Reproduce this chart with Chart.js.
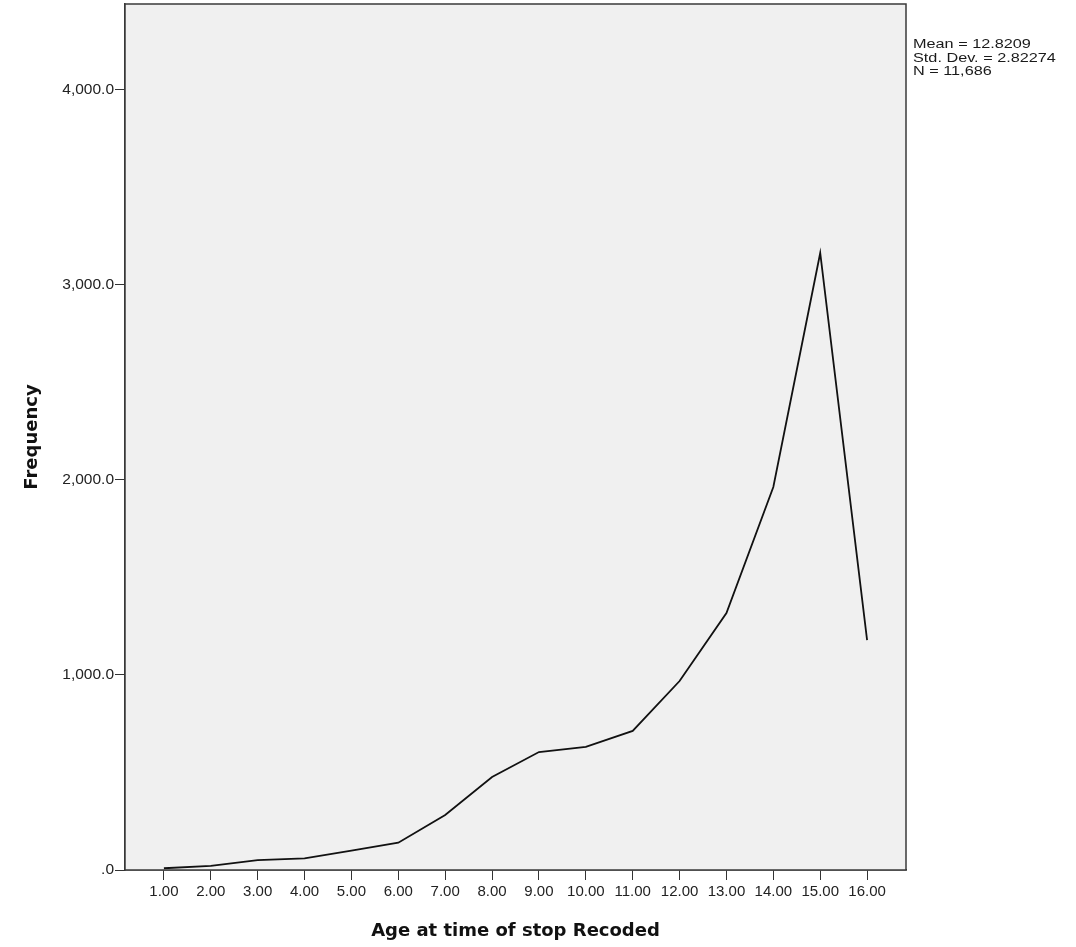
<!DOCTYPE html>
<html lang="en">
<head>
    <meta charset="UTF-8">
    <title>Age at time of stop Recoded</title>
    <script src="https://cdn.jsdelivr.net/npm/chart.js"></script>
    <style>
        body {
            margin: 0;
            padding: 0;
            background: #ffffff;
        }
        canvas {
            display: block;
        }
    </style>
</head>
<body>
    <canvas id="freqChart" width="1076" height="947"></canvas>

    <script>
        // Chart data
        const ages = [1, 2, 3, 4, 5, 6, 7, 8, 9, 10, 11, 12, 13, 14, 15, 16];
        const frequency = [9, 21, 51, 60, 99, 140, 282, 477, 605, 631, 713, 969, 1318, 1964, 3164, 1179];
        const yTicks = [0, 1000, 2000, 3000, 4000];
        const statsLines = ['Mean = 12.8209', 'Std. Dev. = 2.82274', 'N = 11,686'];

        // grey plot area with a dark frame
        const plotFrame = {
            id: 'plotFrame',
            beforeDatasetsDraw(chart) {
                const { ctx, chartArea: a } = chart;
                ctx.save();
                ctx.fillStyle = '#f0f0f0';
                ctx.fillRect(a.left, a.top, a.right - a.left, a.bottom - a.top);
                ctx.restore();
            },
            afterDraw(chart) {
                const { ctx, chartArea: a } = chart;
                ctx.save();
                ctx.strokeStyle = '#3a3a3a';
                ctx.lineWidth = 1.5;
                ctx.strokeRect(a.left, a.top, a.right - a.left, a.bottom - a.top);

                // statistics box on the right
                ctx.fillStyle = '#1a1a1a';
                ctx.font = '12.5px "Liberation Sans", Arial, sans-serif';
                ctx.textBaseline = 'alphabetic';
                ctx.textAlign = 'left';
                statsLines.forEach((t, i) => {
                    ctx.save();
                    ctx.translate(a.right + 7, 48 + i * 13.5);
                    ctx.scale(1.3, 1);
                    ctx.fillText(t, 0, 0);
                    ctx.restore();
                });
                ctx.restore();
            }
        };

        const ctx = document.getElementById('freqChart').getContext('2d');
        new Chart(ctx, {
            type: 'line',
            data: {
                datasets: [{
                    label: 'Frequency',
                    data: ages.map((a, i) => ({ x: a, y: frequency[i] })),
                    borderColor: '#111111',
                    borderWidth: 1.8,
                    pointRadius: 0,
                    tension: 0,
                    fill: false
                }]
            },
            options: {
                responsive: false,
                animation: false,
                layout: {
                    padding: { top: 4, right: 170, left: 0, bottom: 0 }
                },
                plugins: {
                    legend: { display: false },
                    tooltip: { enabled: false }
                },
                scales: {
                    x: {
                        type: 'linear',
                        min: 0.17,
                        max: 16.83,
                        afterBuildTicks: (scale) => {
                            scale.ticks = ages.map(v => ({ value: v }));
                        },
                        afterFit: (scale) => {
                            scale.height = 77;
                            scale.paddingLeft = 0;
                            scale.paddingRight = 0;
                        },
                        grid: {
                            drawOnChartArea: false,
                            drawTicks: true,
                            tickLength: 10,
                            color: '#333333'
                        },
                        border: { display: true, color: '#333333', width: 1.5 },
                        ticks: {
                            color: '#222222',
                            padding: 3,
                            maxRotation: 0,
                            autoSkip: false,
                            font: { family: '"Liberation Sans", Arial, sans-serif', size: 15 },
                            callback: (v) => Number(v).toFixed(2)
                        },
                        title: {
                            display: true,
                            text: 'Age at time of stop Recoded',
                            color: '#111111',
                            padding: { top: 0, bottom: 5 },
                            font: { family: '"DejaVu Sans", Verdana, sans-serif', size: 18, weight: 'bold' }
                        }
                    },
                    y: {
                        min: 0,
                        max: 4441,
                        afterBuildTicks: (scale) => {
                            scale.ticks = yTicks.map(v => ({ value: v }));
                        },
                        afterFit: (scale) => {
                            scale.width = 125;
                            scale.paddingTop = 0;
                            scale.paddingBottom = 0;
                        },
                        grid: {
                            drawOnChartArea: false,
                            drawTicks: true,
                            tickLength: 10,
                            color: '#333333'
                        },
                        border: { display: true, color: '#333333', width: 1.5 },
                        ticks: {
                            color: '#222222',
                            padding: 1,
                            font: { family: '"Liberation Sans", Arial, sans-serif', size: 15.5 },
                            callback: (v) => v === 0 ? '.0' : v.toLocaleString('en-US') + '.0'
                        },
                        title: {
                            display: true,
                            text: 'Frequency',
                            color: '#111111',
                            padding: { top: 22, bottom: 0 },
                            font: { family: '"DejaVu Sans", Verdana, sans-serif', size: 18, weight: 'bold' }
                        }
                    }
                }
            },
            plugins: [plotFrame]
        });
    </script>
</body>
</html>
